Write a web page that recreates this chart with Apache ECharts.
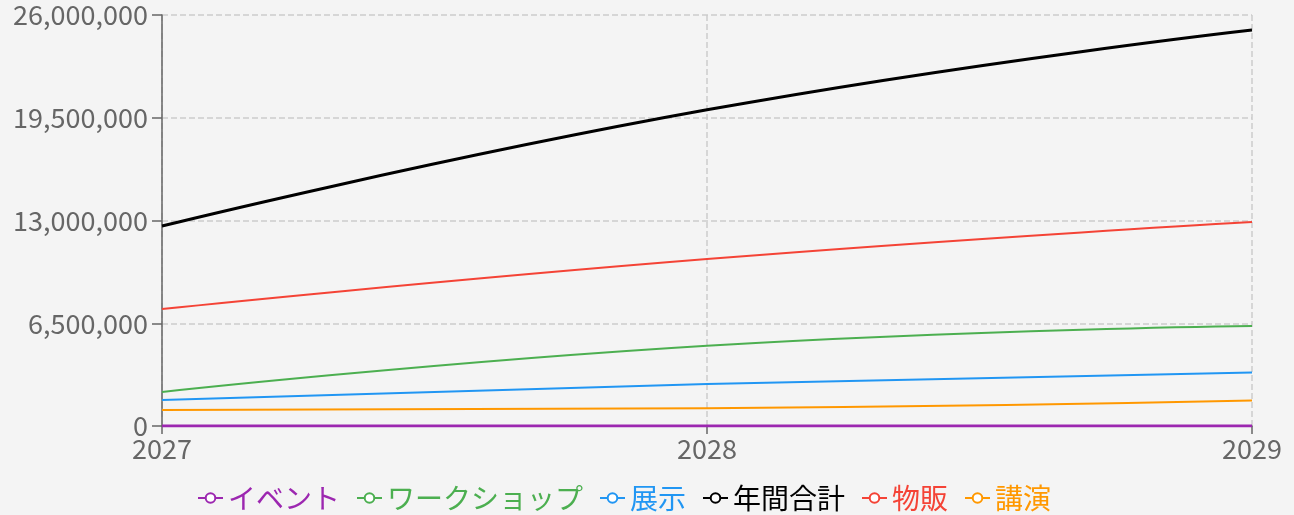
<!DOCTYPE html>
<html>
<head>
<meta charset="utf-8">
<script src="https://cdn.jsdelivr.net/npm/echarts@6/dist/echarts.min.js"></script>
<style>
  html, body { margin: 0; padding: 0; background: #f4f4f4; }
  #grafico { width: 1294px; height: 515px; }
</style>
</head>
<body>
<div id="grafico"></div>
<script>
// dados
var anos = ["2027", "2028", "2029"];

var evento = [0, 0, 0];
var workshop = [2150000, 5080000, 6330000];
var exposicao = [1640000, 2660000, 3380000];
var totalAnual = [12650000, 20000000, 25050000];
var vendas = [7400000, 10560000, 12900000];
var palestras = [1010000, 1120000, 1610000];

var ticksY = [0, 6500000, 13000000, 19500000, 26000000];

var fonte = "'Noto Sans CJK JP', 'Noto Sans', sans-serif";

var cores = {
    "イベント": "#9c27b0",
    "ワークショップ": "#4caf50",
    "展示": "#2196f3",
    "年間合計": "#000000",
    "物販": "#f44336",
    "講演": "#ff9800"
};

function serie(nome, dados, largura) {
    let cor = cores[nome];
    return {
        name: nome,
        type: "line",
        data: dados,
        smooth: true,
        symbol: "emptyCircle",
        symbolSize: 9,
        showSymbol: false,
        lineStyle: { color: cor, width: largura },
        itemStyle: { color: cor, borderWidth: 2.5 }
    };
}

var grafico = echarts.init(document.getElementById("grafico"));

var option = {
    backgroundColor: "#f4f4f4",
    animation: false,
    textStyle: { fontFamily: fonte },
    grid: { left: 162, right: 42, top: 15, bottom: 89 },
    legend: {
        left: 192,
        bottom: -2,
        itemWidth: 25,
        itemHeight: 12,
        itemGap: 16,
        textStyle: { fontSize: 28, fontFamily: fonte },
        data: Object.keys(cores).map(nome => ({
            name: nome,
            textStyle: { color: cores[nome] }
        }))
    },
    xAxis: {
        type: "category",
        data: anos,
        boundaryGap: false,
        axisLine: { lineStyle: { color: "#666", width: 1.5 } },
        axisTick: { alignWithLabel: true, length: 8, lineStyle: { color: "#666", width: 1.5 } },
        axisLabel: { color: "#666", fontSize: 27, margin: 9, fontFamily: fonte,
            showMinLabel: true, showMaxLabel: true },
        splitLine: { show: true, lineStyle: { color: "#ccc", type: "dashed", width: 1.5 } }
    },
    yAxis: {
        type: "value",
        min: ticksY[0],
        max: ticksY[ticksY.length - 1],
        interval: ticksY[1] - ticksY[0],
        axisLine: { show: true, lineStyle: { color: "#666", width: 1.5 } },
        axisTick: { show: true, length: 10, lineStyle: { color: "#666", width: 1.5 } },
        axisLabel: {
            color: "#666", fontSize: 27, margin: 14, fontFamily: fonte,
            formatter: v => v.toLocaleString("en-US")
        },
        splitLine: { show: true, lineStyle: { color: "#ccc", type: "dashed", width: 1.5 } }
    },
    series: [
        serie("講演", palestras, 2),
        serie("展示", exposicao, 2),
        serie("ワークショップ", workshop, 2),
        serie("物販", vendas, 2),
        serie("年間合計", totalAnual, 3),
        serie("イベント", evento, 3)
    ]
};

grafico.setOption(option);
</script>
</body>
</html>
